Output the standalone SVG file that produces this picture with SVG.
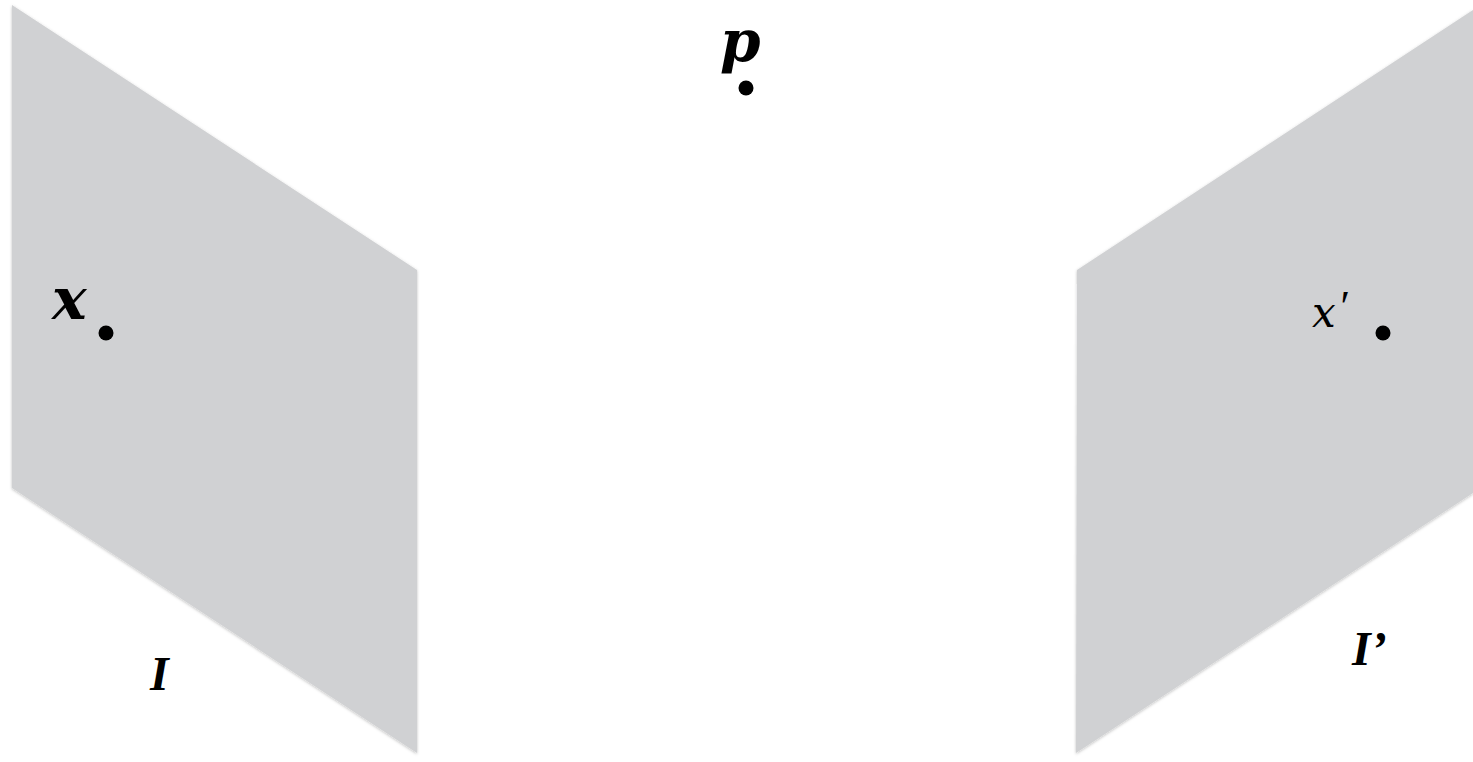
<svg xmlns="http://www.w3.org/2000/svg" width="1473" height="762" viewBox="0 0 1473 762">
  <style>
    .plane { fill: #d0d1d3; filter: url(#sh); }
    .dot { fill: #000; }
    .lbl { font-family: "Liberation Serif", "DejaVu Serif", serif; font-style: italic; fill: #000; }
    .m { font-family: "DejaVu Serif", "Liberation Serif", serif; }
    .b { font-weight: bold; }
  </style>
  <defs>
    <filter id="sh" x="-5%" y="-5%" width="110%" height="110%">
      <feDropShadow dx="0" dy="1" stdDeviation="1.5" flood-color="#000" flood-opacity="0.25"/>
    </filter>
  </defs>
  <rect width="1473" height="762" fill="#fff"/>
  <g id="plane-I">
    <polygon class="plane" points="12,5 417,270 417,753 12,488"/>
    <text class="lbl b" x="150" y="690" font-size="48">I</text>
  </g>
  <g id="plane-I-prime">
    <polygon class="plane" points="1473,10 1077,270 1076,753 1473,493"/>
    <text class="lbl b" x="1352" y="665" font-size="48">I’</text>
  </g>
  <g id="point-p">
    <circle class="dot" cx="746" cy="88" r="7.5"/>
    <text class="lbl m b" x="720" y="61" font-size="58">p</text>
  </g>
  <g id="point-x">
    <circle class="dot" cx="106" cy="333" r="7.5"/>
    <text class="lbl m b" x="52" y="319" font-size="58">x</text>
  </g>
  <g id="point-x-prime">
    <circle class="dot" cx="1383" cy="333" r="7.5"/>
    <text class="lbl m" x="1312" y="327" font-size="42">x<tspan class="lbl" font-size="44" dy="-6" dx="2">′</tspan></text>
  </g>
  <g id="connectors"></g>
</svg>
